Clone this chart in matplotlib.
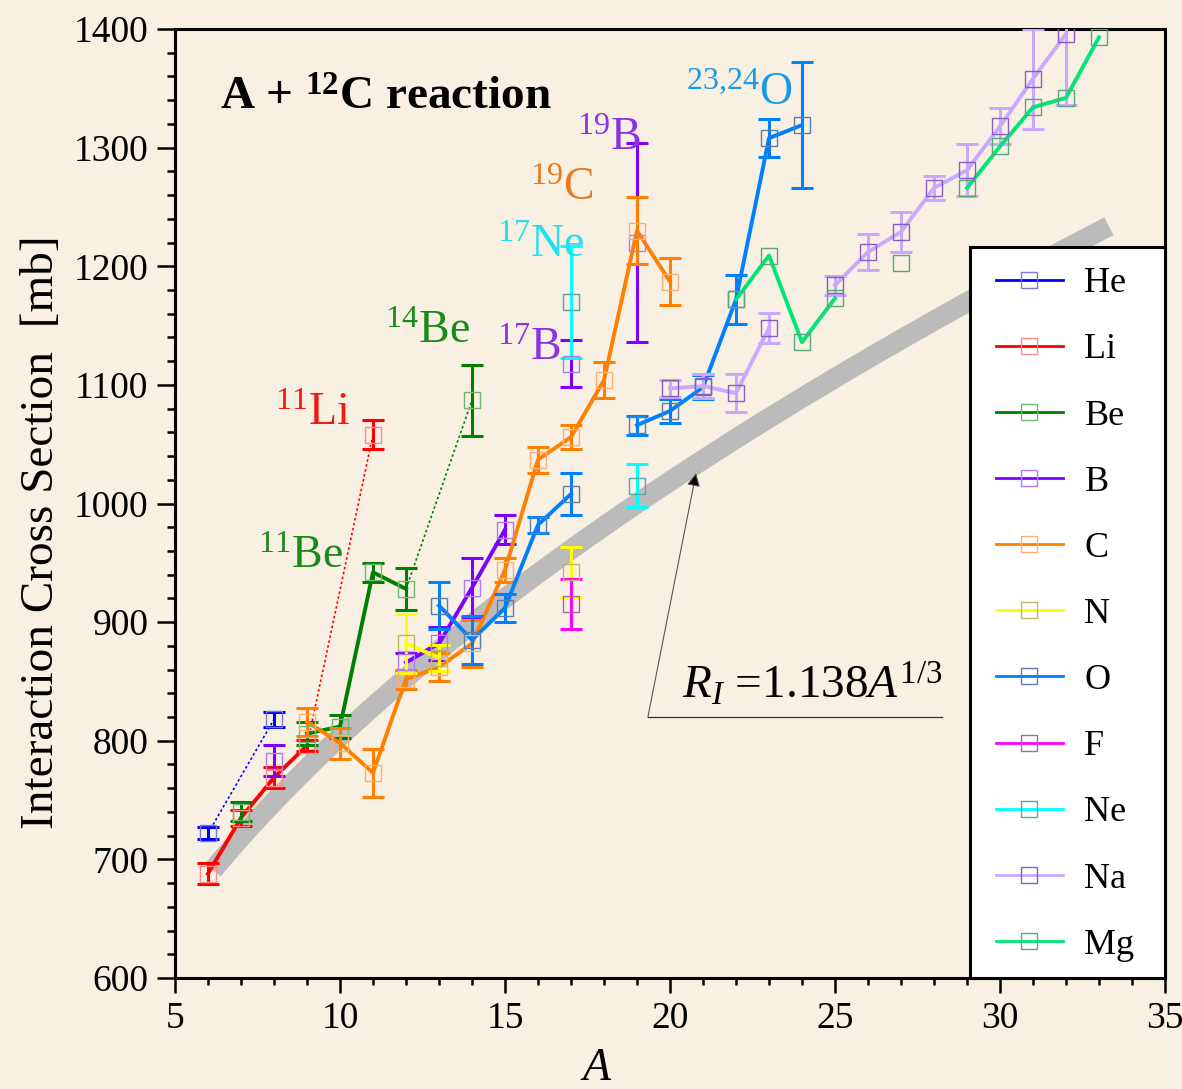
"""
Interaction cross sections for A + 12C
"""
import numpy as np
import matplotlib
matplotlib.use("Agg")
import matplotlib.pyplot as plt
from matplotlib.lines import Line2D
from matplotlib.patches import Rectangle
from matplotlib.ticker import MultipleLocator

plt.rcParams["font.family"] = ["Liberation Serif", "DejaVu Serif"]
plt.rcParams["mathtext.fontset"] = "custom"
plt.rcParams["mathtext.rm"] = "Liberation Serif"
plt.rcParams["mathtext.it"] = "Liberation Serif:italic"
plt.rcParams["mathtext.bf"] = "Liberation Serif:bold"

# data: mass number, cross section [mb], error [mb]
He_A = [6, 8]
He_s = [722, 818]
He_e = [5, 6]

Li_A = [6, 7, 8, 9, 11]
Li_s = [688, 735, 769, 796, 1058]
Li_e = [9, 7, 9, 5, 12]

Be_A = [7, 9, 10, 11, 12, 14]
Be_s = [740, 806, 812, 942, 928, 1087]
Be_e = [8, 10, 10, 8, 18, 30]

B_A = [8, 12, 13, 14, 15, 17, 19]
B_s = [783, 866, 882, 929, 978, 1118, 1220]
B_e = [13, 8, 14, 25, 12, 20, 84]

C_A = [9, 10, 11, 12, 13, 14, 15, 16, 17, 18, 19, 20]
C_s = [816, 798, 773, 852, 862, 882, 944, 1037, 1056, 1104, 1230, 1187]
C_e = [12, 13, 20, 8, 12, 20, 10, 11, 10, 15, 28, 20]

N_A = [12, 13, 17]
N_s = [882, 870, 942]
N_e = [25, 11, 21]

O_A = [13, 14, 15, 16, 17, 19, 20, 21, 22, 23, 24]
O_s = [914, 885, 912, 982, 1008, 1066, 1078, 1098, 1172, 1308, 1319]
O_e = [20, 20, 12, 7, 18, 8, 10, 10, 21, 16, 53]

F_A = [17]
F_s = [915]
F_e = [21]

Ne_A = [17, 19]
Ne_s = [1170, 1015]
Ne_e = [47, 18]

Na_A = [20, 21, 22, 23, 25, 26, 27, 28, 29, 30, 31, 32]
Na_s = [1097, 1099, 1093, 1148, 1184, 1212, 1229, 1266, 1281, 1318, 1358, 1396]
Na_e = [7, 10, 16, 13, 8, 15, 17, 10, 22, 15, 42, 60]

Mg_A = [22, 23, 24, 25, 27, 29, 30, 31, 32, 33]
Mg_s = [1172, 1209, 1136, 1173, 1203, 1266, 1301, 1334, 1342, 1393]
Mg_e = [0, 0, 0, 0, 0, 0, 0, 0, 0, 0]

# (name, A, sigma, err, solid line ranges, dotted line ranges, line colour, marker edge)
series = [
    ("He", He_A, He_s, He_e, [], [(6, 8)], "#0000ff", "#7a7ae0"),
    ("Li", Li_A, Li_s, Li_e, [(6, 9)], [(9, 11)], "#ff0000", "#ff8a8a"),
    ("Be", Be_A, Be_s, Be_e, [(9, 12)], [(12, 14)], "#008000", "#70b870"),
    ("B", B_A, B_s, B_e, [(12, 15)], [], "#8000ff", "#b07aff"),
    ("C", C_A, C_s, C_e, [(9, 20)], [], "#ff8000", "#ffb070"),
    ("N", N_A, N_s, N_e, [(12, 13)], [], "#ffff00", "#c0b860"),
    ("O", O_A, O_s, O_e, [(13, 17), (19, 24)], [], "#0080ff", "#5a7fa8"),
    ("F", F_A, F_s, F_e, [], [], "#ff00ff", "#b060b0"),
    ("Ne", Ne_A, Ne_s, Ne_e, [], [], "#00ffff", "#50a8a8"),
    ("Na", Na_A, Na_s, Na_e, [(20, 23), (25, 32)], [], "#c9a9ff", "#8a5cc8"),
    ("Mg", Mg_A, Mg_s, Mg_e, [(22, 25), (29, 33)], [], "#00e676", "#5aa878"),
]

# isotope labels: text, A, sigma (baseline), colour
iso_labels = [
    (r"$^{11}$Li", 8.03, 1066, "#f01c14"),
    (r"$^{14}$Be", 11.36, 1135, "#1a8a1a"),
    (r"$^{11}$Be", 7.52, 946, "#1a8a1a"),
    (r"$^{17}$B", 14.76, 1121, "#8a33e6"),
    (r"$^{17}$Ne", 14.76, 1208, "#22e0f0"),
    (r"$^{19}$C", 15.76, 1256, "#e87a20"),
    (r"$^{19}$B", 17.18, 1298, "#8a33e6"),
    (r"$^{23{,}24}$O", 20.48, 1336, "#1a9ae6"),
]

r0 = 1.138  # fm
A_target = 12
band_A = np.linspace(6.15, 33.3, 200)

bg = "#f8f0e3"
fig = plt.figure(figsize=(11.82, 10.89), dpi=100, facecolor=bg)
ax = fig.add_axes([175 / 1182, 1 - 978 / 1089, 990 / 1182, 949 / 1089])
ax.set_facecolor(bg)

# geometric cross section band
band_s = 10 * np.pi * (r0 * (band_A ** (1 / 3) + A_target ** (1 / 3))) ** 2
ax.plot(band_A, band_s, color="#bbbbbb", lw=14.5, solid_capstyle="butt", zorder=1)


def pick(A, s, lo, hi):
    A = np.asarray(A)
    s = np.asarray(s)
    m = (A >= lo) & (A <= hi)
    return A[m], s[m]


handles = []
for name, A, s, e, solid, dotted, col, mec in series:
    for lo, hi in solid:
        xa, ya = pick(A, s, lo, hi)
        ax.plot(xa, ya, color=col, lw=2.8, zorder=3)
    for lo, hi in dotted:
        xa, ya = pick(A, s, lo, hi)
        ax.plot([xa[0], xa[-1]], [ya[0], ya[-1]], color=col, lw=1.2,
                ls=(0, (1.5, 1.5)), zorder=2)
    if any(v > 0 for v in e):
        ax.errorbar(A, s, yerr=e, fmt="none", ecolor=col, elinewidth=2.2,
                    capsize=8, capthick=2.2, zorder=3)
    ax.plot(A, s, ls="none", marker="s", ms=11, mfc="none", mec=mec,
            mew=1.0, zorder=4)
    handles.append(Line2D([], [], color=col, lw=2, marker="s", ms=11,
                          mfc="none", mec=mec, mew=1.0, label=name))

ax.set_xlim(5, 35)
ax.set_ylim(600, 1400)
ax.xaxis.set_major_locator(MultipleLocator(5))
ax.xaxis.set_minor_locator(MultipleLocator(1))
ax.yaxis.set_major_locator(MultipleLocator(100))
ax.yaxis.set_minor_locator(MultipleLocator(20))
ax.tick_params(axis="both", which="both", direction="out", width=1.8,
               labelsize=27, top=False, right=False)
ax.tick_params(axis="y", which="major", length=13, pad=6)
ax.tick_params(axis="y", which="minor", length=5.5)
ax.tick_params(axis="x", which="major", length=11, pad=6)
ax.tick_params(axis="x", which="minor", length=5)
for sp in ax.spines.values():
    sp.set_linewidth(2.2)

fig.text(42 / 1182, 1 - 532 / 1089, "Interaction Cross Section  [mb]",
         fontsize=34, rotation=90, ha="center", va="center")
fig.text(597 / 1182, 1 - 1080 / 1089, "A", fontsize=33, style="italic",
         ha="center", va="baseline")

ax.text(6.36, 1331.7, r"A + $^{\mathbf{12}}$C reaction", fontsize=34,
        fontweight="bold", ha="left", va="baseline", zorder=6)

for txt, xa, ya, col in iso_labels:
    ax.text(xa, ya, txt, fontsize=33, color=col, ha="left", va="baseline", zorder=6)

# formula with arrow
ax.text(20.36, 836, r"$R_I$ =1.138$A^{1/3}$", fontsize=34, ha="left",
        va="baseline", zorder=6)
ax.plot([19.33, 28.24], [820, 820], color="#333333", lw=0.9, zorder=6)
ax.annotate("", xy=(20.79, 1025.7), xytext=(19.33, 820),
            arrowprops=dict(arrowstyle="-|>", color="#555555", lw=0.8,
                            mutation_scale=20, shrinkA=0, shrinkB=0,
                            fc="black", ec="#555555"), zorder=6)

# legend box flush with the lower right corner
box = Rectangle(((970 - 175) / 990, 0), (1165 - 970) / 990, (978 - 247) / 949,
                transform=ax.transAxes, facecolor="white", edgecolor="black",
                lw=2.2, zorder=9, clip_on=False)
ax.add_patch(box)
leg = ax.legend(handles=handles, loc="upper left",
                bbox_to_anchor=((996 - 175) / 990, (978 - 267) / 949),
                borderaxespad=0, borderpad=0, fontsize=26, frameon=False,
                handlelength=1.85, handletextpad=0.6, labelspacing=0.91)
leg.set_zorder(10)

fig.savefig("out.png", dpi=100, facecolor=bg)
